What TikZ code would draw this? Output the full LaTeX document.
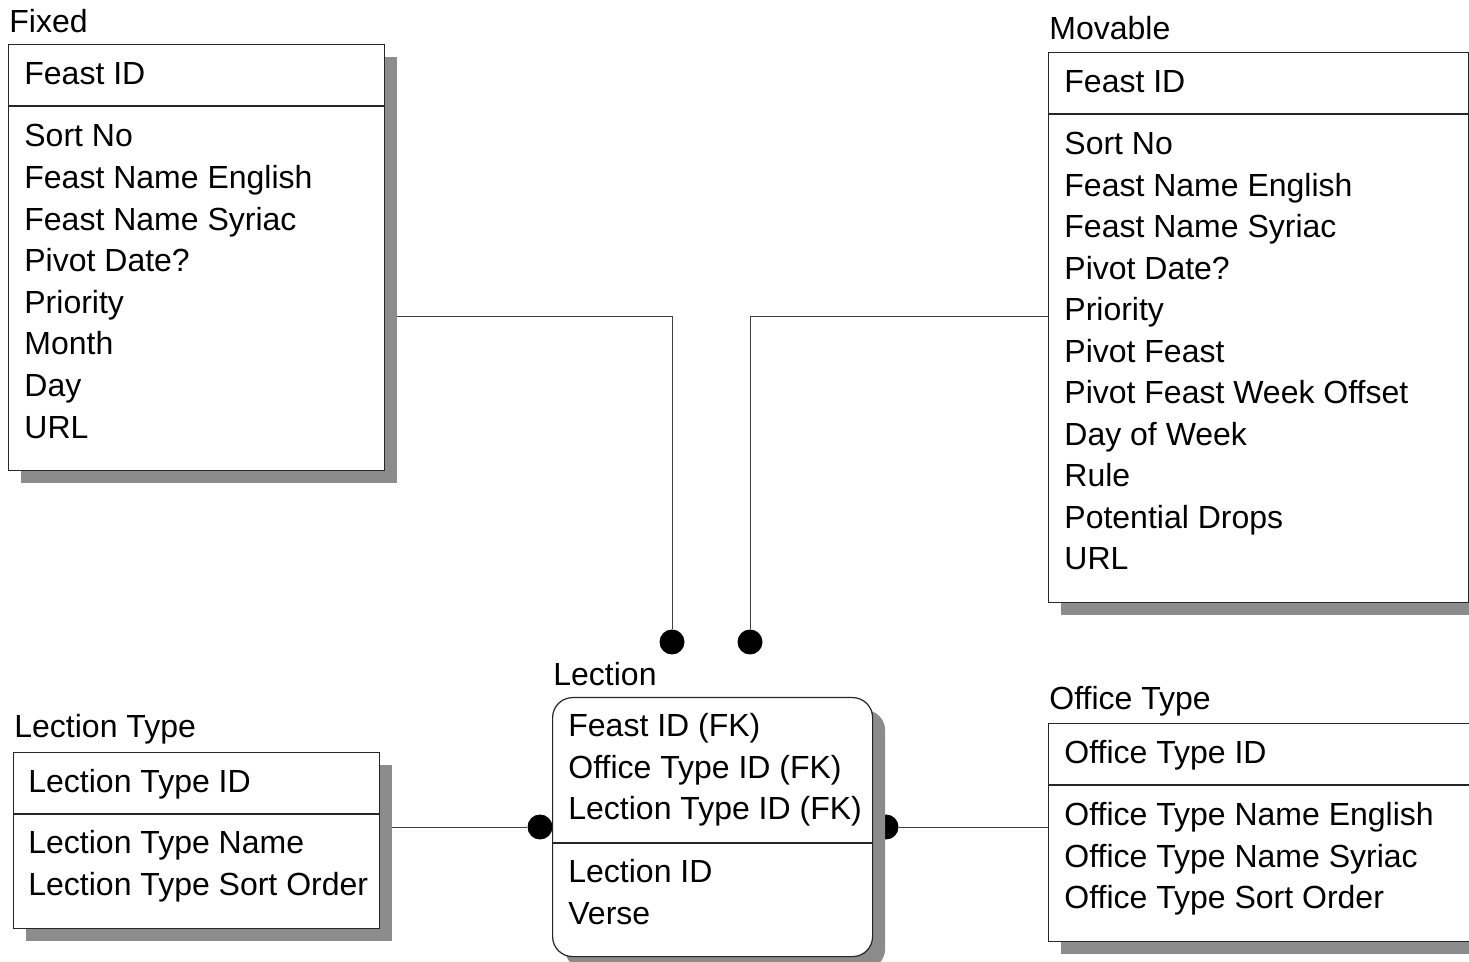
\documentclass[tikz,border=0pt]{standalone}
\usepackage{fontspec}
\setmainfont{Liberation Sans}
\usetikzlibrary{shadows,backgrounds}
\begin{document}
\begin{tikzpicture}[
   x=0.5pt,y=-0.5pt,
   font=\fontsize{16}{19}\selectfont,
   entity/.style={draw=black!85,line width=0.6pt,fill=white,anchor=north west,inner sep=0pt,
      drop shadow={shadow xshift=6.25pt,shadow yshift=-6.25pt,opacity=1,fill=black!45}},
   title/.style={anchor=base west,inner sep=0pt},
   attr/.style={anchor=base west,inner sep=0pt},
   sep/.style={draw=black!85,line width=0.6pt},
   link/.style={draw=black!75,line width=0.5pt},
   dot/.style={circle,fill=black,inner sep=0pt,minimum size=12.5pt}]
\useasboundingbox (0,0) rectangle (1469,962);
% Fixed
\node[title] (fixed-title) at (9,33) {Fixed};
\node[entity,minimum width=188pt,minimum height=213pt] (fixed) at (8,44) {};
\node[attr] (fixed-key) at (24,85) {Feast ID};
\draw[sep] (fixed.west |- 0,106) -- (fixed.east |- 0,106);
\foreach \t [count=\i] in {Sort No,Feast Name English,Feast Name Syriac,Pivot Date?,Priority,Month,Day,URL}
   \node[attr] (fixed-a\i) at (24,{147+41.6*(\i-1)}) {\t};
% Movable
\node[title] (movable-title) at (1049,40) {Movable};
\node[entity,minimum width=210pt,minimum height=275pt] (movable) at (1048,52) {};
\node[attr] (movable-key) at (1064,93) {Feast ID};
\draw[sep] (movable.west |- 0,114) -- (movable.east |- 0,114);
\foreach \t [count=\i] in {Sort No,Feast Name English,Feast Name Syriac,Pivot Date?,Priority,Pivot Feast,Pivot Feast Week Offset,Day of Week,Rule,Potential Drops,URL}
   \node[attr] (movable-a\i) at (1064,{155+41.5*(\i-1)}) {\t};
% Lection
\node[title] (lection-title) at (553,686) {Lection};
\node[entity,rounded corners=10pt,minimum width=160pt,minimum height=129.5pt] (lection) at (552,697) {};
\foreach \t [count=\i] in {Feast ID (FK),Office Type ID (FK),Lection Type ID (FK)}
   \node[attr] (lection-k\i) at (568,{737+41.4*(\i-1)}) {\t};
\draw[sep] (lection.west |- 0,843) -- (lection.east |- 0,843);
\foreach \t [count=\i] in {Lection ID,Verse}
   \node[attr] (lection-a\i) at (568,{883+41*(\i-1)}) {\t};
% Lection Type
\node[title] (ltype-title) at (14,738) {Lection Type};
\node[entity,minimum width=183pt,minimum height=88pt] (ltype) at (13,752) {};
\node[attr] (ltype-key) at (28,792) {Lection Type ID};
\draw[sep] (ltype.west |- 0,814) -- (ltype.east |- 0,814);
\foreach \t [count=\i] in {Lection Type Name,Lection Type Sort Order}
   \node[attr] (ltype-a\i) at (28,{854+41.5*(\i-1)}) {\t};
% Office Type
\node[title] (otype-title) at (1049,710) {Office Type};
\node[entity,minimum width=213pt,minimum height=109pt] (otype) at (1048,723) {};
\node[attr] (otype-key) at (1064,763) {Office Type ID};
\draw[sep] (otype.west |- 0,785) -- (otype.east |- 0,785);
\foreach \t [count=\i] in {Office Type Name English,Office Type Name Syriac,Office Type Sort Order}
   \node[attr] (otype-a\i) at (1064,{826+41.3*(\i-1)}) {\t};
% relationships, behind the boxes and shadows
\begin{scope}[on background layer]
\node[dot] (fixed-dot) at (672,642) {};
\node[dot] (movable-dot) at (750,642) {};
\node[dot] (ltype-dot) at (540,827) {};
\node[dot] (otype-dot) at (886,827) {};
\draw[link] (fixed.east |- 0,317) -| (fixed-dot);
\draw[link] (movable.west |- 0,317) -| (movable-dot);
\draw[link] (ltype.east |- 0,827) -- (ltype-dot);
\draw[link] (otype.west |- 0,827) -- (otype-dot);
\end{scope}
\end{tikzpicture}
\end{document}
